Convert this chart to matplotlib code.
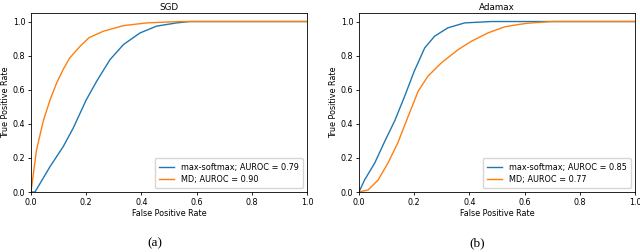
import numpy as np
import matplotlib
matplotlib.use("Agg")
import matplotlib.pyplot as plt

# SGD
sgd_soft_fpr = [0.0, 0.0145, 0.069, 0.117, 0.153, 0.20, 0.238, 0.286, 0.335, 0.395, 0.455, 0.528, 0.576, 0.7, 1.0]
sgd_soft_tpr = [0.0, 0.0, 0.149, 0.267, 0.375, 0.54, 0.65, 0.776, 0.865, 0.933, 0.973, 0.992, 1.0, 1.0, 1.0]
sgd_md_fpr = [0.0, 0.02, 0.045, 0.069, 0.093, 0.117, 0.14, 0.178, 0.21, 0.262, 0.335, 0.42, 0.54, 0.7, 1.0]
sgd_md_tpr = [0.0, 0.247, 0.42, 0.54, 0.64, 0.72, 0.786, 0.855, 0.905, 0.943, 0.976, 0.992, 1.0, 1.0, 1.0]
# Adamax
ada_soft_fpr = [0.0, 0.02, 0.057, 0.093, 0.13, 0.165, 0.20, 0.238, 0.274, 0.322, 0.383, 0.48, 0.7, 1.0]
ada_soft_tpr = [0.0, 0.07, 0.17, 0.296, 0.42, 0.56, 0.708, 0.845, 0.914, 0.963, 0.992, 1.0, 1.0, 1.0]
ada_md_fpr = [0.0, 0.033, 0.069, 0.105, 0.14, 0.178, 0.214, 0.25, 0.298, 0.359, 0.407, 0.467, 0.528, 0.576, 0.61, 0.7, 1.0]
ada_md_tpr = [0.0, 0.012, 0.07, 0.17, 0.286, 0.443, 0.59, 0.68, 0.757, 0.835, 0.884, 0.933, 0.969, 0.982, 0.99, 1.0, 1.0]

titles = ["SGD", "Adamax"]
labels = [["max-softmax; AUROC = 0.79", "MD; AUROC = 0.90"],
          ["max-softmax; AUROC = 0.85", "MD; AUROC = 0.77"]]
captions = ["(a)", "(b)"]

fig = plt.figure(figsize=(6.4, 2.52), dpi=100)
W, H = 640, 252
axes_px = [(31, 13, 307, 192), (359, 13, 635, 192)]
data = [((sgd_soft_fpr, sgd_soft_tpr), (sgd_md_fpr, sgd_md_tpr)),
        ((ada_soft_fpr, ada_soft_tpr), (ada_md_fpr, ada_md_tpr))]
cap_x = [155, 477]

fs = 5.8
for i in range(2):
    l, t, r, b = axes_px[i]
    ax = fig.add_axes([l / W, 1 - b / H, (r - l) / W, (b - t) / H])
    (f1, t1), (f2, t2) = data[i]
    ax.plot(f1, t1, color="#1f77b4", lw=1.0, label=labels[i][0])
    ax.plot(f2, t2, color="#ff7f0e", lw=1.0, label=labels[i][1])
    ax.set_xlim(0, 1)
    ax.set_ylim(0, 1.05)
    ax.set_xticks([0, 0.2, 0.4, 0.6, 0.8, 1.0])
    ax.set_yticks([0, 0.2, 0.4, 0.6, 0.8, 1.0])
    ax.tick_params(labelsize=fs, length=2.5, width=0.6, pad=1.5)
    for s in ax.spines.values():
        s.set_linewidth(0.6)
    ax.set_title(titles[i], fontsize=fs + 0.5, pad=2)
    ax.set_xlabel("False Positive Rate", fontsize=fs, labelpad=1.5)
    ax.set_ylabel("True Positive Rate", fontsize=fs, labelpad=2)
    ax.legend(loc="lower right", fontsize=5.9, handlelength=1.9, borderpad=0.5,
              labelspacing=0.4, handletextpad=0.8, fancybox=True, framealpha=0.8)
    fig.text(cap_x[i] / W, 1 - 243 / H, captions[i], ha="center", va="center",
             fontsize=9.5, family="Liberation Serif")

fig.savefig("out.png", dpi=100)
